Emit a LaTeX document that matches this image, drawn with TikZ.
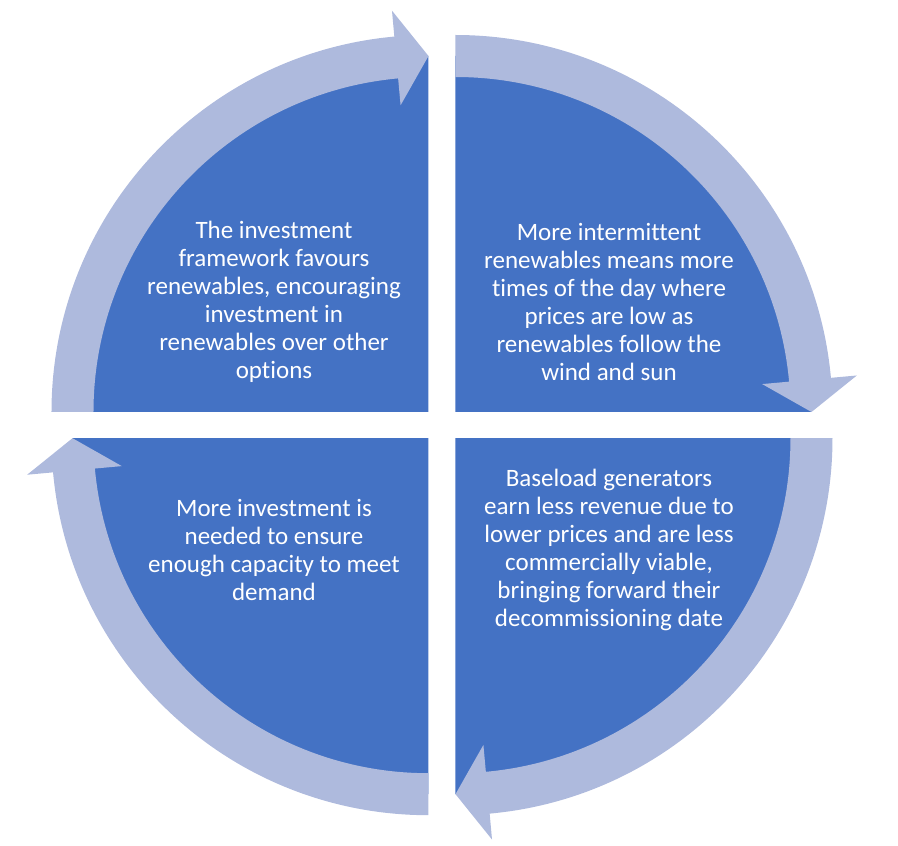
\documentclass[tikz,border=0pt]{standalone}
\usepackage{fontspec}
\setmainfont{Carlito}[Ligatures={NoCommon}]
\definecolor{quadblue}{HTML}{4472C4}
\definecolor{arrowblue}{HTML}{AEBADD}
\begin{document}
\begin{tikzpicture}[x=1pt,y=1pt,
  sector/.style={fill=quadblue, draw=none},
  cyclearrow/.style={fill=arrowblue, draw=none},
  quadtext/.style={text=white, align=center, inner sep=0pt,
    font=\fontsize{25}{28}\selectfont},
  quadrant/.pic={
    \fill[sector] (0,0) -- (180:356) arc[start angle=180,end angle=90,radius=356] -- cycle;
  },
  bentarrow/.pic={
    \fill[cyclearrow] (180:377) arc[start angle=180,end angle=95.2,radius=377]
      -- (95.2:403) -- (90:356) -- (95.2:308) -- (95.2:335)
      arc[start angle=95.2,end angle=180,radius=335] -- cycle;
  }]
\useasboundingbox (-442,-421) rectangle (456,425);
\coordinate (tl) at (-13.5,13);
\coordinate (tr) at (13.5,13);
\coordinate (br) at (13.5,-13.2);
\coordinate (bl) at (-13.5,-13.2);
% sectors
\pic at (tl) {quadrant};
\pic[rotate=-90] at (tr) {quadrant};
\pic[rotate=-180] at (br) {quadrant};
\pic[rotate=-270] at (bl) {quadrant};
% arrows
\pic at (tl) {bentarrow};
\pic[rotate=-90] at (tr) {bentarrow};
\pic[rotate=-180] at (br) {bentarrow};
\pic[rotate=-270] at (bl) {bentarrow};
% texts
\node[quadtext] (t1) at (-168,123) {The investment\\framework favours\\renewables, encouraging\\investment in\\renewables over other\\options};
\node[quadtext] (t2) at (167,123) {More intermittent\\renewables means more\\times of the day where\\prices are low as\\renewables follow the\\wind and sun};
\node[quadtext] (t3) at (167,-125) {Baseload generators\\earn less revenue due to\\lower prices and are less\\commercially viable,\\bringing forward their\\decommissioning date};
\node[quadtext] (t4) at (-168,-124.5) {More investment is\\needed to ensure\\enough capacity to meet\\demand};
\end{tikzpicture}
\end{document}
